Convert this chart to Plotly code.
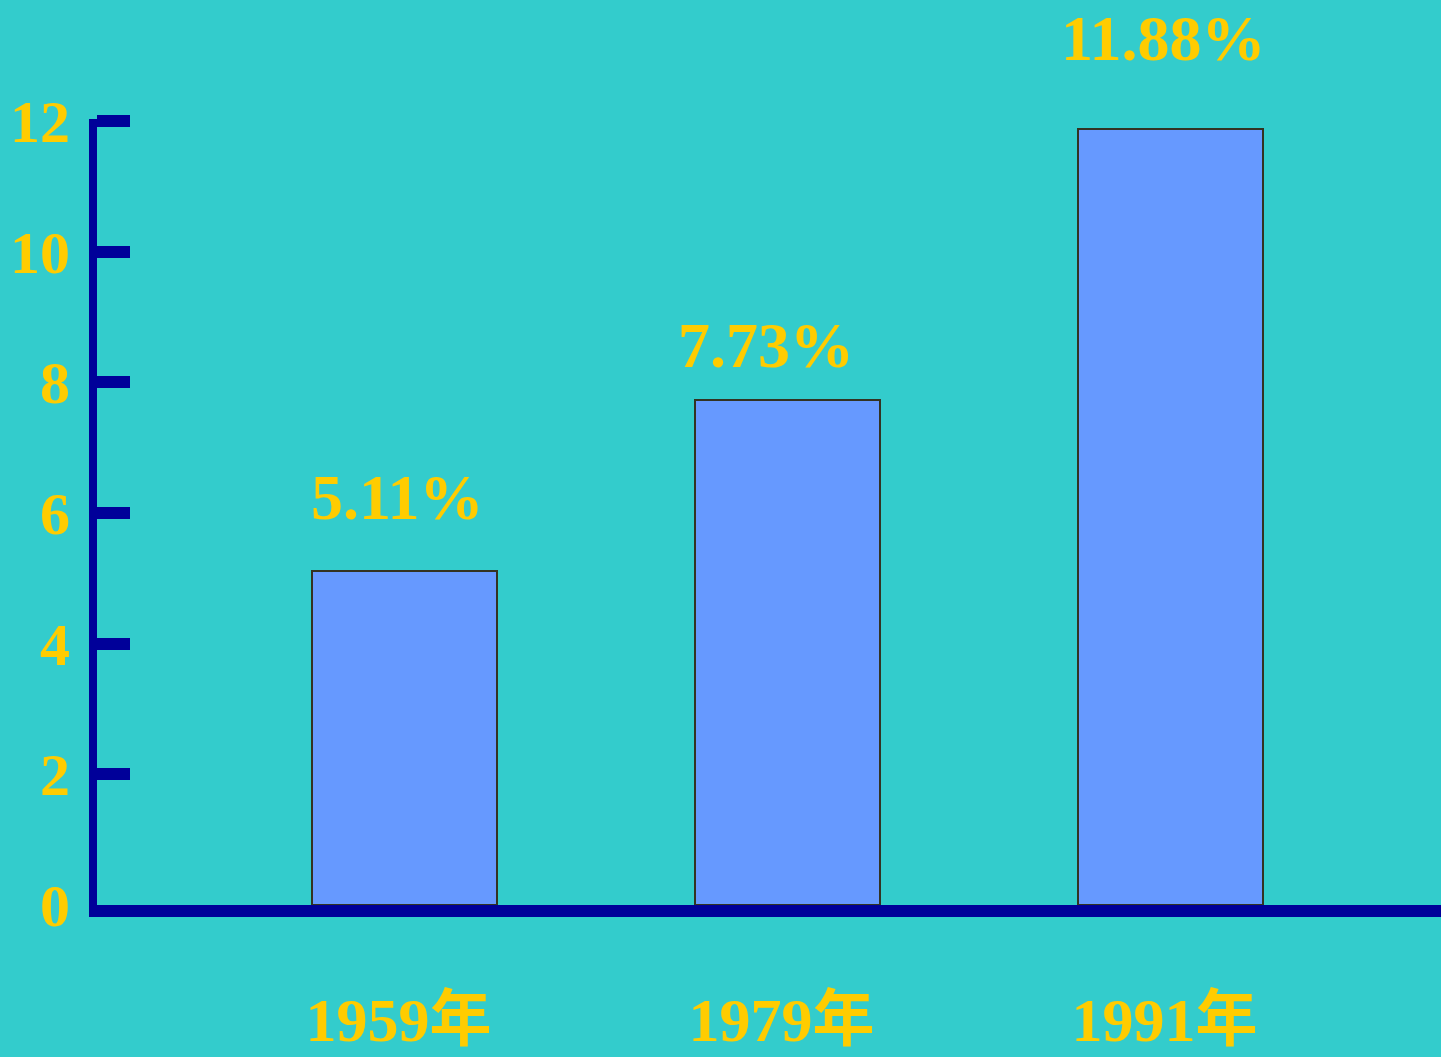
import plotly.graph_objects as go

# Data
years = ["1959年", "1979年", "1991年"]
shares = [5.11, 7.73, 11.88]
share_labels = ["5.11%", "7.73%", "11.88%"]
y_ticks = [0, 2, 4, 6, 8, 10, 12]

BG = "#33CCCC"
AXIS = "#000099"
GOLD = "#FFCC00"
BAR = "#6699FF"
FONT = "Liberation Serif, Times New Roman, Noto Sans CJK SC, serif"

fig = go.Figure()
fig.add_trace(go.Bar(
    x=years,
    y=shares,
    width=0.483,
    marker=dict(color=BAR, line=dict(color="#333322", width=2)),
    hoverinfo="skip",
))

# value labels above each bar
label_xshift = [-8, -22, -8]
label_yshift = [36, 17, 53]
for yr, v, lab, dx, dy in zip(years, shares, share_labels, label_xshift, label_yshift):
    fig.add_annotation(
        x=yr, y=v, text=f"<b>{lab}</b>", showarrow=False,
        yanchor="bottom", yshift=dy, xshift=dx,
        font=dict(family=FONT, size=64, color=GOLD),
    )

fig.update_layout(
    width=1441, height=1057,
    paper_bgcolor=BG, plot_bgcolor=BG,
    margin=dict(l=97, r=0, t=119, b=152),
    showlegend=False,
    bargap=0,
)

fig.update_xaxes(
    type="category",
    range=[-0.803, 2.706],
    automargin=False,
    showgrid=False, zeroline=False,
    showline=True, linecolor=AXIS, linewidth=12,
    ticks="", ticklabelstandoff=50, ticklabelshift=-6,
    tickfont=dict(family=FONT, size=62, color=GOLD),
    tickprefix="<b>", ticksuffix="</b>",
)

fig.update_yaxes(
    range=[0, 12.03],
    automargin=False,
    tickvals=y_ticks,
    ticktext=[f"<b>{t}</b>" for t in y_ticks],
    showgrid=False, zeroline=False,
    showline=True, linecolor=AXIS, linewidth=8,
    ticks="inside", ticklen=33, tickwidth=12, tickcolor=AXIS,
    ticklabelstandoff=7,
    tickfont=dict(family=FONT, size=60, color=GOLD),
)

fig.write_html("out.html")
